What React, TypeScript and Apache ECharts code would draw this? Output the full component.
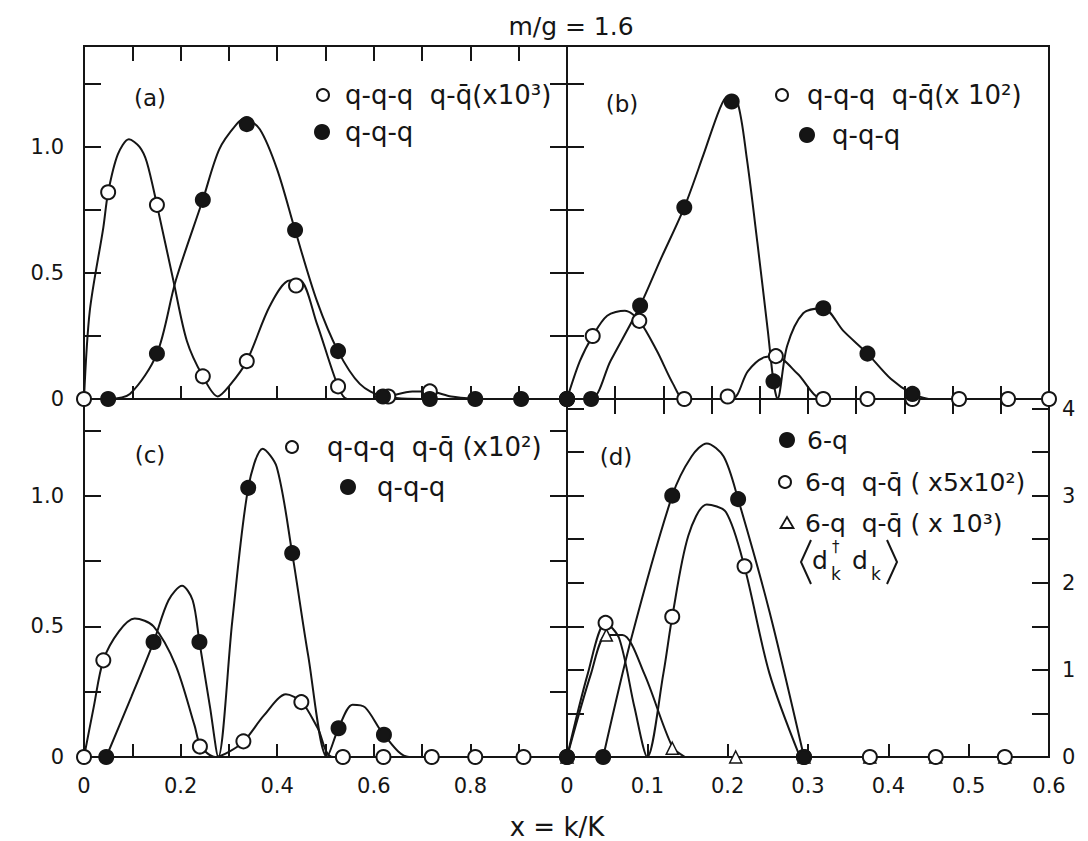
import React, { useEffect, useRef } from "react";
import * as echarts from "echarts";

// ---------- data (x = k/K, value) ----------
// Panel (a)
const aOpenPts: [number, number][] = [[0, 0], [0.05, 0.82], [0.151, 0.77], [0.246, 0.09], [0.337, 0.15], [0.439, 0.45], [0.526, 0.05], [0.63, 0.01], [0.716, 0.03]];
const aFilledPts: [number, number][] = [[0.05, 0], [0.151, 0.18], [0.246, 0.79], [0.337, 1.09], [0.437, 0.67], [0.526, 0.19], [0.619, 0.01], [0.716, 0], [0.81, 0], [0.905, 0], [1.0, 0]];
const aOpenCurve: [number, number][] = [[0, 0], [0.012, 0.35], [0.04, 0.68], [0.05, 0.82], [0.07, 0.97], [0.093, 1.03], [0.115, 1.0], [0.13, 0.94], [0.151, 0.77], [0.185, 0.47], [0.213, 0.23], [0.246, 0.09], [0.277, 0.01], [0.3, 0.05], [0.337, 0.15], [0.385, 0.37], [0.426, 0.47], [0.447, 0.47], [0.482, 0.3], [0.526, 0.05], [0.545, 0], [0.6, 0], [0.63, 0.01], [0.68, 0.03], [0.716, 0.03], [0.76, 0.01], [0.81, 0]];
const aFilledCurve: [number, number][] = [[0.05, 0], [0.095, 0.02], [0.151, 0.18], [0.19, 0.47], [0.246, 0.79], [0.28, 0.99], [0.316, 1.09], [0.333, 1.11], [0.364, 1.07], [0.4, 0.91], [0.437, 0.67], [0.482, 0.39], [0.526, 0.19], [0.571, 0.06], [0.619, 0.01], [0.716, 0], [0.81, 0], [0.905, 0], [1.0, 0]];

// Panel (b)
const bOpenPts: [number, number][] = [[0, 0], [0.032, 0.25], [0.09, 0.31], [0.146, 0], [0.2, 0.01], [0.26, 0.17], [0.319, 0], [0.374, 0], [0.43, 0], [0.488, 0], [0.549, 0], [0.6, 0]];
const bFilledPts: [number, number][] = [[0, 0], [0.03, 0], [0.091, 0.37], [0.146, 0.76], [0.205, 1.18], [0.257, 0.07], [0.319, 0.36], [0.374, 0.18], [0.43, 0.02]];
const bOpenCurve: [number, number][] = [[0, 0], [0.016, 0.15], [0.032, 0.25], [0.05, 0.33], [0.072, 0.35], [0.09, 0.31], [0.112, 0.19], [0.132, 0.06], [0.146, 0], [0.205, 0], [0.225, 0.11], [0.245, 0.165], [0.26, 0.17], [0.287, 0.1], [0.319, 0], [0.6, 0]];
const bFilledCurve: [number, number][] = [[0, 0], [0.03, 0], [0.054, 0.15], [0.091, 0.37], [0.116, 0.55], [0.146, 0.76], [0.17, 0.97], [0.19, 1.15], [0.2, 1.2], [0.212, 1.18], [0.224, 0.95], [0.237, 0.62], [0.25, 0.27], [0.257, 0.07], [0.262, 0], [0.274, 0.21], [0.294, 0.34], [0.319, 0.36], [0.344, 0.27], [0.374, 0.18], [0.403, 0.08], [0.43, 0.02], [0.45, 0]];

// Panel (c)
const cOpenPts: [number, number][] = [[0, 0], [0.04, 0.37], [0.24, 0.04], [0.33, 0.06], [0.45, 0.21], [0.536, 0], [0.62, 0], [0.72, 0], [0.81, 0], [0.91, 0]];
const cFilledPts: [number, number][] = [[0.046, 0], [0.144, 0.44], [0.239, 0.44], [0.34, 1.03], [0.431, 0.78], [0.527, 0.11], [0.621, 0.085]];
const cOpenCurve: [number, number][] = [[0, 0], [0.02, 0.19], [0.04, 0.37], [0.072, 0.48], [0.105, 0.53], [0.144, 0.5], [0.19, 0.35], [0.229, 0.12], [0.242, 0.04], [0.272, 0], [0.3, 0.02], [0.331, 0.06], [0.373, 0.16], [0.418, 0.24], [0.451, 0.21], [0.484, 0.11], [0.516, 0], [0.95, 0]];
const cFilledCurve: [number, number][] = [[0.046, 0], [0.098, 0.23], [0.144, 0.44], [0.175, 0.6], [0.203, 0.655], [0.225, 0.6], [0.239, 0.44], [0.261, 0.19], [0.278, 0], [0.307, 0.52], [0.34, 1.03], [0.37, 1.18], [0.399, 1.11], [0.431, 0.78], [0.464, 0.39], [0.503, 0], [0.527, 0.11], [0.556, 0.2], [0.582, 0.19], [0.621, 0.085], [0.673, 0], [0.95, 0]];

// Panel (d) (right-hand scale)
const dFilledPts: [number, number][] = [[0, 0], [0.045, 0], [0.131, 3.0], [0.213, 2.96], [0.295, 0]];
const dOpenPts: [number, number][] = [[0, 0], [0.048, 1.54], [0.131, 1.61], [0.221, 2.19], [0.295, 0], [0.377, 0], [0.459, 0], [0.545, 0]];
const dTriPts: [number, number][] = [[0, 0], [0.049, 1.4], [0.131, 0.1], [0.21, 0], [0.295, 0], [0.377, 0], [0.459, 0], [0.545, 0]];
const dFilledCurve: [number, number][] = [[0.045, 0], [0.08, 1.36], [0.131, 3.0], [0.155, 3.45], [0.174, 3.6], [0.195, 3.45], [0.213, 2.96], [0.252, 1.67], [0.295, 0]];
const dOpenCurve: [number, number][] = [[0, 0], [0.026, 0.96], [0.048, 1.54], [0.065, 1.36], [0.084, 0.57], [0.1, 0], [0.12, 0.96], [0.131, 1.61], [0.151, 2.54], [0.174, 2.9], [0.198, 2.81], [0.221, 2.18], [0.252, 0.96], [0.29, 0]];
const dTriCurve: [number, number][] = [[0, 0], [0.03, 0.96], [0.049, 1.4], [0.069, 1.4], [0.096, 0.96], [0.131, 0.12], [0.147, 0]];

const leftXLabels = [0, 0.2, 0.4, 0.6, 0.8];
const rightXLabels = [0, 0.1, 0.2, 0.3, 0.4, 0.5, 0.6];
const leftYLabels = [0, 0.5, 1.0];
const rightYLabels = [0, 1, 2, 3, 4];

const title = "m/g = 1.6";
const xTitle = "x = k/K";
const QB = "q-q\u0304";
const legendA = ["q-q-q  " + QB + "(x10\u00b3)", "q-q-q"];
const legendB = ["q-q-q  " + QB + "(x 10\u00b2)", "q-q-q"];
const legendC = ["q-q-q  " + QB + " (x10\u00b2)", "q-q-q"];
const legendD = ["6-q", "6-q  " + QB + " ( x5x10\u00b2)", "6-q  " + QB + " ( x 10\u00b3)"];

// ---------- style ----------
const INK = "#151515";
const FONT = '"DejaVu Sans", "Liberation Sans", sans-serif';

const near = (a: number, b: number) => Math.abs(a - b) < 1e-6;
const fmtFrom = (list: number[], dec: number) => (v: number) => {
  const hit = list.find((t) => near(t, v));
  if (hit === undefined) return "";
  if (hit === 0) return "0";
  return dec > 0 ? hit.toFixed(dec) : String(hit);
};

function curve(data: [number, number][], xi: number, yi: number) {
  return {
    type: "line",
    data,
    xAxisIndex: xi,
    yAxisIndex: yi,
    showSymbol: false,
    symbol: "none",
    smooth: 0.3,
    lineStyle: { color: INK, width: 2 },
    z: 2,
    silent: true,
  };
}
function marks(data: [number, number][], xi: number, yi: number, kind: "open" | "filled" | "tri") {
  return {
    type: "scatter",
    data,
    xAxisIndex: xi,
    yAxisIndex: yi,
    symbol: kind === "tri" ? "triangle" : "circle",
    symbolSize: kind === "tri" ? 12 : 14,
    itemStyle: {
      color: kind === "filled" ? INK : "#ffffff",
      borderColor: INK,
      borderWidth: kind === "tri" ? 1.5 : 2,
      opacity: 1,
    },
    z: 4,
    silent: true,
  };
}

function xAx(grid: number, max: number, interval: number, opts: any = {}) {
  return {
    type: "value",
    gridIndex: grid,
    min: 0,
    max,
    interval,
    position: "bottom",
    axisLine: { show: false },
    axisTick: { show: true, inside: true, length: 13, lineStyle: { color: INK, width: 2 } },
    axisLabel: { show: false },
    splitLine: { show: false },
    ...opts,
  };
}
function yAx(grid: number, max: number, interval: number, opts: any = {}) {
  return {
    type: "value",
    gridIndex: grid,
    min: 0,
    max,
    interval,
    position: "left",
    axisLine: { show: false },
    axisTick: { show: true, inside: true, length: 17, lineStyle: { color: INK, width: 2 } },
    axisLabel: { show: false },
    splitLine: { show: false },
    ...opts,
  };
}
const labelStyle = { color: INK, fontSize: 21, fontFamily: FONT };

function txt(x: number, y: number, text: string, size: number, align = "left") {
  return {
    type: "text",
    x,
    y,
    silent: true,
    style: {
      text,
      fontSize: size,
      fontFamily: FONT,
      fill: INK,
      textAlign: align,
      textVerticalAlign: "middle",
      align,
      verticalAlign: "middle",
    },
  };
}
function dot(x: number, y: number, filled: boolean) {
  return {
    type: "circle",
    silent: true,
    shape: { cx: x, cy: y, r: filled ? 7 : 6 },
    style: { fill: filled ? INK : "#fff", stroke: INK, lineWidth: 2 },
  };
}
function tri(x: number, y: number) {
  return {
    type: "polygon",
    silent: true,
    shape: { points: [[x, y - 6], [x + 6.5, y + 5], [x - 6.5, y + 5]] },
    style: { fill: "#fff", stroke: INK, lineWidth: 1.8 },
  };
}
function bracket(pts: number[][]) {
  return {
    type: "polyline",
    silent: true,
    shape: { points: pts },
    style: { stroke: INK, lineWidth: 2, fill: null },
  };
}

export default function App() {
  const ref = useRef<HTMLDivElement>(null);
  useEffect(() => {
    if (!ref.current) return;
    const chart = echarts.init(ref.current, undefined, { renderer: "svg" });
    const gridBase = { show: true, borderColor: INK, borderWidth: 2, backgroundColor: "transparent", containLabel: false };
    const option: any = {
      animation: false,
      backgroundColor: "#ffffff",
      grid: [
        { ...gridBase, left: 84, top: 46, width: 483, height: 353 },
        { ...gridBase, left: 567, top: 46, width: 482, height: 353 },
        { ...gridBase, left: 84, top: 399, width: 483, height: 358 },
        { ...gridBase, left: 567, top: 399, width: 482, height: 358 },
      ],
      xAxis: [
        xAx(0, 1.0, 0.1),
        xAx(0, 1.0, 0.1, { position: "top", axisTick: { show: true, inside: true, length: 15, lineStyle: { color: INK, width: 2 } } }),
        xAx(1, 0.6, 0.06),
        xAx(1, 0.6, 0.06, { position: "top", axisTick: { show: true, inside: true, length: 15, lineStyle: { color: INK, width: 2 } } }),
        xAx(2, 1.0, 0.1, { axisLabel: { show: true, margin: 18, ...labelStyle, formatter: fmtFrom(leftXLabels, 1) } }),
        xAx(3, 0.6, 0.1, { axisLabel: { show: true, margin: 18, ...labelStyle, formatter: fmtFrom(rightXLabels, 1) } }),
      ],
      yAxis: [
        yAx(0, 1.4, 0.25, { axisLabel: { show: true, margin: 20, ...labelStyle, formatter: fmtFrom(leftYLabels, 1) } }),
        yAx(1, 1.4, 0.25),
        yAx(1, 1.4, 0.25, { position: "right" }),
        yAx(2, 1.37, 0.25, { axisLabel: { show: true, margin: 20, ...labelStyle, formatter: fmtFrom(leftYLabels, 1) } }),
        yAx(2, 1.37, 0.25, { position: "right" }),
        yAx(3, 4.11, 0.5),
        yAx(3, 4.11, 0.5, { position: "right", axisLabel: { show: true, margin: 13, ...labelStyle, formatter: fmtFrom(rightYLabels, 0) } }),
      ],
      series: [
        curve(aOpenCurve, 0, 0),
        curve(aFilledCurve, 0, 0),
        marks(aOpenPts, 0, 0, "open"),
        marks(aFilledPts, 0, 0, "filled"),

        curve(bOpenCurve, 2, 1),
        curve(bFilledCurve, 2, 1),
        marks(bOpenPts, 2, 1, "open"),
        marks(bFilledPts, 2, 1, "filled"),

        curve(cOpenCurve, 4, 3),
        curve(cFilledCurve, 4, 3),
        marks(cOpenPts, 4, 3, "open"),
        marks(cFilledPts, 4, 3, "filled"),

        curve(dFilledCurve, 5, 6),
        curve(dOpenCurve, 5, 6),
        curve(dTriCurve, 5, 6),
        marks(dTriPts, 5, 6, "tri"),
        marks(dOpenPts, 5, 6, "open"),
        marks(dFilledPts, 5, 6, "filled"),
      ],
      graphic: [
        txt(571, 26, title, 25, "center"),
        txt(557, 827, xTitle, 26, "center"),
        txt(150, 98, "(a)", 23, "center"),
        txt(622, 104, "(b)", 23, "center"),
        txt(150, 455, "(c)", 23, "center"),
        txt(616, 457, "(d)", 23, "center"),
        // legend (a)
        dot(323, 95, false),
        txt(345, 95, legendA[0], 26),
        dot(322, 132, true),
        txt(345, 132, legendA[1], 26),
        // legend (b)
        dot(782, 95, false),
        txt(807, 95, legendB[0], 26),
        dot(807, 135, true),
        txt(832, 135, legendB[1], 26),
        // legend (c)
        dot(292, 447, false),
        txt(327, 447, legendC[0], 26),
        dot(348, 487, true),
        txt(377, 487, legendC[1], 26),
        // legend (d)
        dot(787, 440, true),
        txt(807, 440, legendD[0], 25),
        dot(785, 482, false),
        txt(805, 482, legendD[1], 25),
        tri(787, 523),
        txt(805, 523, legendD[2], 25),
        bracket([[811, 540], [801, 562], [811, 584]]),
        txt(812, 560, "d", 25),
        txt(832, 547, "\u2020", 15),
        txt(831, 574, "k", 17),
        txt(852, 560, "d", 25),
        txt(871, 574, "k", 17),
        bracket([[887, 540], [897, 562], [887, 584]]),
      ],
    };
    chart.setOption(option);
    return () => chart.dispose();
  }, []);
  return (
    <div
      ref={ref}
      style={{ position: "absolute", left: 0, top: 0, width: 1088, height: 841, background: "#fff" }}
    />
  );
}
